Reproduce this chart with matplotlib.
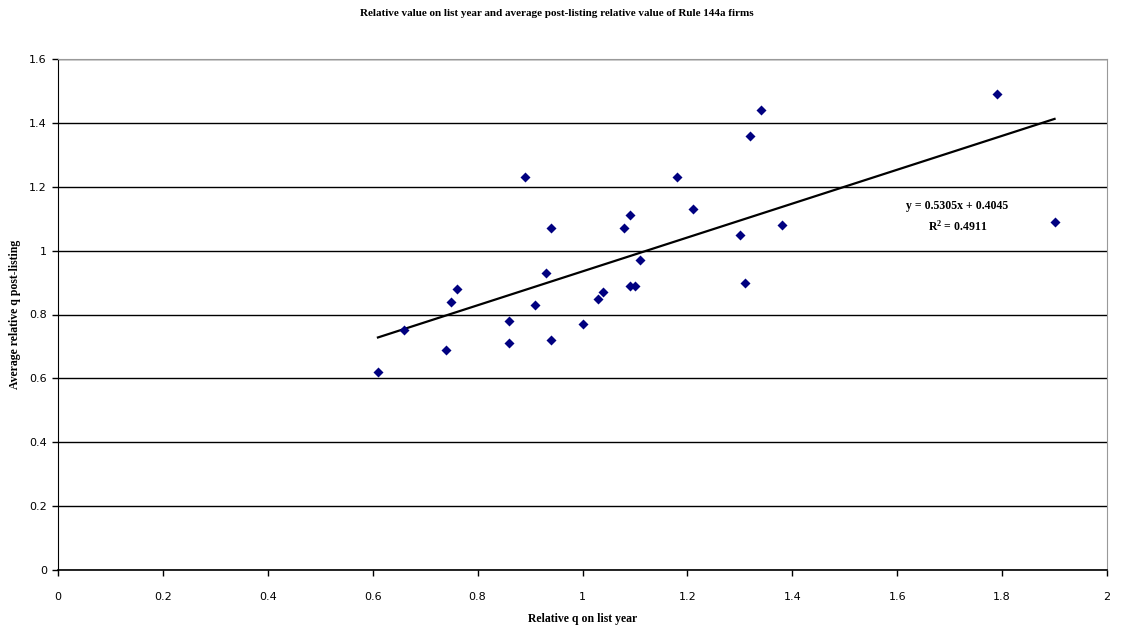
import numpy as np
import matplotlib.pyplot as plt

# relative q on list year vs average post-listing relative q
q_list_year = [0.61, 0.66, 0.74, 0.75, 0.76, 0.86, 0.86, 0.89, 0.91, 0.93,
               0.94, 0.94, 1.00, 1.03, 1.04, 1.08, 1.09, 1.09, 1.10, 1.11,
               1.18, 1.21, 1.30, 1.31, 1.32, 1.34, 1.38, 1.79, 1.90]
q_post = [0.62, 0.75, 0.69, 0.84, 0.88, 0.78, 0.71, 1.23, 0.83, 0.93,
          1.07, 0.72, 0.77, 0.85, 0.87, 1.07, 1.11, 0.89, 0.89, 0.97,
          1.23, 1.13, 1.05, 0.90, 1.36, 1.44, 1.08, 1.49, 1.09]
slope, intercept, r2 = 0.5305, 0.4045, 0.4911

x = np.array(q_list_year)
y = np.array(q_post)

fig = plt.figure(figsize=(11.29, 6.3), dpi=100)
ax = fig.add_axes([58 / 1129, 60 / 630, 1049 / 1129, 511 / 630])

ax.scatter(x, y, marker='D', s=26, color='#000080', zorder=3, linewidths=0)
xl = np.array([x.min(), x.max()])
ax.plot(xl, slope * xl + intercept, color='black', lw=1.6, zorder=2)

ax.set_xlim(0, 2)
ax.set_ylim(0, 1.6)
ax.set_xticks(np.arange(0, 2.01, 0.2))
ax.set_yticks(np.arange(0, 1.61, 0.2))
ax.set_xticklabels(['0', '0.2', '0.4', '0.6', '0.8', '1', '1.2', '1.4', '1.6', '1.8', '2'])
ax.set_yticklabels(['0', '0.2', '0.4', '0.6', '0.8', '1', '1.2', '1.4', '1.6'])
ax.yaxis.grid(True, color='black', lw=1)
ax.set_axisbelow(True)
ax.tick_params(axis='both', labelsize=8, length=4, color='black', width=1)
ax.tick_params(axis='x', pad=12)
ax.tick_params(axis='y', pad=4)
for lab in ax.get_xticklabels() + ax.get_yticklabels():
    lab.set_family('DejaVu Sans')

for s in ['top', 'right']:
    ax.spines[s].set_color('#999999')
ax.spines['left'].set_color('black')
ax.spines['bottom'].set_color('black')
ax.spines['bottom'].set_linewidth(1.2)

ax.text(1.715, 1.14, 'y = 0.5305x + 0.4045', fontsize=8.5, fontweight='bold',
        family='Liberation Serif', ha='center', va='center')
ax.text(1.715, 1.075, '$\\mathregular{R^2}$ = 0.4911', fontsize=8.5, fontweight='bold',
        family='Liberation Serif', ha='center', va='center')

fig.text(557 / 1129, 1 - 13 / 630,
         'Relative value on list year and average post-listing relative value of Rule 144a firms',
         fontsize=8, fontweight='bold', family='Liberation Serif', ha='center', va='center')
ax.set_xlabel('Relative q on list year', fontsize=8.5, fontweight='bold',
              family='Liberation Serif', labelpad=8)
ax.set_ylabel('Average relative q post-listing', fontsize=8.5, fontweight='bold',
              family='Liberation Serif', labelpad=6)

fig.savefig('out.png', dpi=100)
